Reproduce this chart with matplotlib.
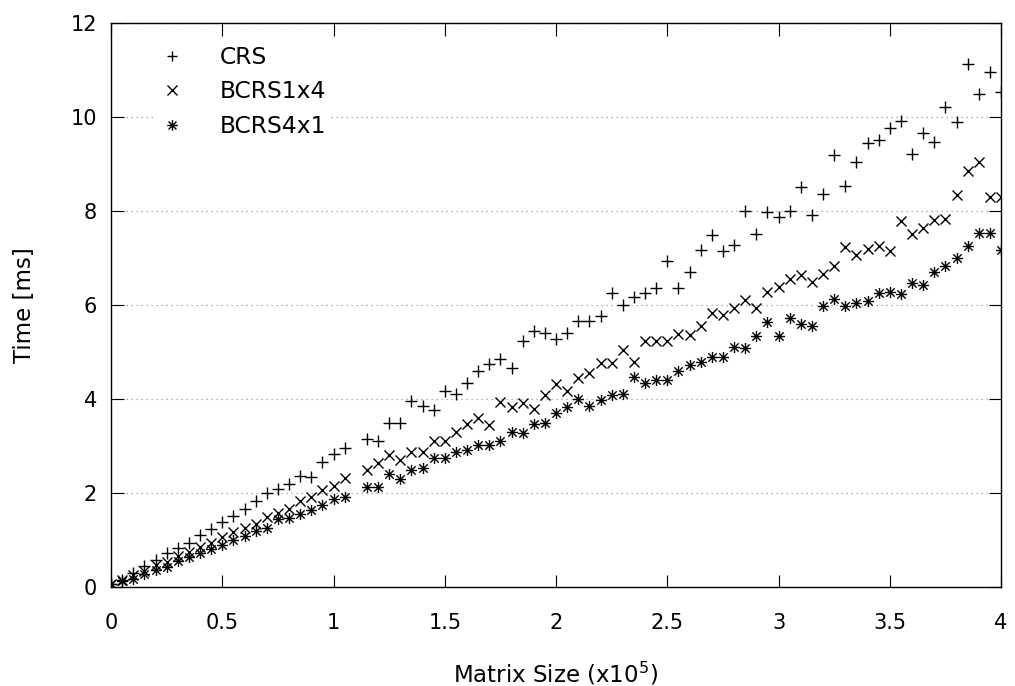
import matplotlib
matplotlib.use("Agg")
import matplotlib.pyplot as plt
from matplotlib.path import Path

# matrix size in units of 1e5 (no sample at 1.10)
size = [0.00, 0.05, 0.10, 0.15, 0.20, 0.25, 0.30, 0.35, 0.40, 0.45,
        0.50, 0.55, 0.60, 0.65, 0.70, 0.75, 0.80, 0.85, 0.90, 0.95,
        1.00, 1.05, 1.15, 1.20, 1.25, 1.30, 1.35, 1.40, 1.45, 1.50,
        1.55, 1.60, 1.65, 1.70, 1.75, 1.80, 1.85, 1.90, 1.95, 2.00,
        2.05, 2.10, 2.15, 2.20, 2.25, 2.30, 2.35, 2.40, 2.45, 2.50,
        2.55, 2.60, 2.65, 2.70, 2.75, 2.80, 2.85, 2.90, 2.95, 3.00,
        3.05, 3.10, 3.15, 3.20, 3.25, 3.30, 3.35, 3.40, 3.45, 3.50,
        3.55, 3.60, 3.65, 3.70, 3.75, 3.80, 3.85, 3.90, 3.95, 4.00]

crs = [0.06, 0.15, 0.29, 0.45, 0.57, 0.72, 0.84, 0.93, 1.10, 1.23,
       1.39, 1.51, 1.67, 1.82, 1.99, 2.08, 2.19, 2.36, 2.33, 2.65,
       2.83, 2.96, 3.15, 3.11, 3.48, 3.48, 3.96, 3.86, 3.77, 4.17,
       4.11, 4.33, 4.60, 4.74, 4.85, 4.67, 5.23, 5.45, 5.40, 5.27,
       5.40, 5.65, 5.66, 5.77, 6.25, 5.99, 6.16, 6.25, 6.37, 6.94,
       6.37, 6.71, 7.16, 7.50, 7.15, 7.28, 8.01, 7.51, 7.97, 7.88,
       7.99, 8.51, 7.91, 8.36, 9.19, 8.54, 9.05, 9.45, 9.51, 9.76,
       9.91, 9.21, 9.67, 9.47, 10.21, 9.89, 11.13, 10.50, 10.95, 10.53]

bcrs1x4 = [0.06, 0.15, 0.26, 0.33, 0.47, 0.54, 0.66, 0.75, 0.86, 0.93,
           1.07, 1.16, 1.26, 1.34, 1.48, 1.57, 1.67, 1.82, 1.91, 2.06,
           2.15, 2.31, 2.49, 2.63, 2.81, 2.70, 2.87, 2.87, 3.11, 3.11,
           3.30, 3.46, 3.60, 3.45, 3.94, 3.84, 3.91, 3.78, 4.09, 4.32,
           4.17, 4.45, 4.56, 4.77, 4.77, 5.04, 4.79, 5.24, 5.24, 5.24,
           5.38, 5.36, 5.56, 5.84, 5.79, 5.94, 6.11, 5.93, 6.28, 6.38,
           6.55, 6.63, 6.50, 6.66, 6.83, 7.23, 7.06, 7.19, 7.26, 7.14,
           7.79, 7.52, 7.63, 7.81, 7.84, 8.34, 8.86, 9.04, 8.29, 8.30]

bcrs4x1 = [0.06, 0.13, 0.18, 0.28, 0.36, 0.42, 0.55, 0.63, 0.72, 0.80,
           0.89, 1.01, 1.08, 1.19, 1.25, 1.44, 1.47, 1.55, 1.64, 1.74,
           1.87, 1.91, 2.12, 2.13, 2.40, 2.30, 2.49, 2.54, 2.74, 2.75,
           2.88, 2.91, 3.02, 3.02, 3.11, 3.30, 3.28, 3.46, 3.50, 3.70,
           3.84, 3.99, 3.86, 3.98, 4.09, 4.10, 4.46, 4.35, 4.40, 4.40,
           4.60, 4.72, 4.79, 4.90, 4.90, 5.11, 5.08, 5.35, 5.63, 5.34,
           5.72, 5.60, 5.55, 5.98, 6.13, 5.98, 6.05, 6.09, 6.26, 6.28,
           6.23, 6.47, 6.43, 6.70, 6.83, 6.99, 7.26, 7.54, 7.54, 7.18]

# gnuplot-style star: a plus laid over a cross
star = Path([(-1, 0), (1, 0), (0, -1), (0, 1),
             (-0.75, -0.75), (0.75, 0.75), (-0.75, 0.75), (0.75, -0.75)],
            [Path.MOVETO, Path.LINETO] * 4)

plt.rcParams['font.family'] = ['DejaVu Sans']
plt.rcParams['mathtext.default'] = 'regular'

fig = plt.figure(figsize=(10.15, 6.86), dpi=100)
ax = fig.add_axes([111 / 1015, 99 / 686, 890 / 1015, 564 / 686])

ax.plot(size, crs, linestyle='none', marker='+', markersize=8,
        markeredgewidth=1.0, color='black', label='CRS')
ax.plot(size, bcrs1x4, linestyle='none', marker='x', markersize=7.5,
        markeredgewidth=1.0, color='black', label='BCRS1x4')
ax.plot(size, bcrs4x1, linestyle='none', marker=star, markersize=8,
        markeredgewidth=1.0, color='black', label='BCRS4x1')

ax.set_xlim(0, 4)
ax.set_ylim(0, 12)
ax.set_xticks([0, 0.5, 1, 1.5, 2, 2.5, 3, 3.5, 4])
ax.set_xticklabels(['0', '0.5', '1', '1.5', '2', '2.5', '3', '3.5', '4'])
ax.set_yticks([0, 2, 4, 6, 8, 10, 12])

ax.tick_params(direction='in', length=9, width=0.8, top=True, right=True,
               labelsize=15, color='black')
ax.tick_params(axis='x', pad=19)
ax.tick_params(axis='y', pad=10)
for s in ax.spines.values():
    s.set_linewidth(1.0)
    s.set_zorder(5)

ax.grid(axis='y', linestyle=(0, (1, 3)), color='#999999', linewidth=0.9)
ax.set_axisbelow(True)

ax.set_xlabel('Matrix Size (x10$^5$)', fontsize=16.5, labelpad=19)
ax.set_ylabel('Time [ms]', fontsize=16.5, labelpad=25)

leg = ax.legend(loc='upper left', bbox_to_anchor=(0.050, 0.968),
                borderaxespad=0, fontsize=16.8, frameon=True, framealpha=1,
                edgecolor='white', facecolor='white', markerscale=0.95,
                handlelength=1.0, handletextpad=1.56, labelspacing=0.5,
                borderpad=0.2)
leg.get_frame().set_linewidth(0)

fig.savefig('out.png', dpi=100)
